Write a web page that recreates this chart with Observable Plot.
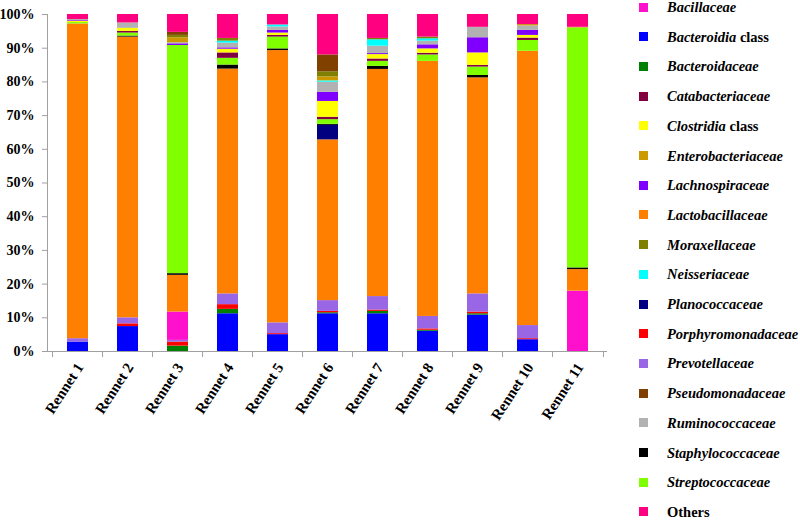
<!DOCTYPE html>
<html><head><meta charset="utf-8">
<script src="https://cdn.jsdelivr.net/npm/d3@7"></script>
<script src="https://cdn.jsdelivr.net/npm/@observablehq/plot@0.6"></script>
<style>
body{margin:0;background:#fff;}
#wrap{position:relative;width:800px;height:520px;overflow:hidden;font-family:"Liberation Serif","Times New Roman",serif;background:#fff;}
#chart{position:absolute;left:0;top:0;}
.item{position:absolute;left:639px;height:20px;display:flex;align-items:center;white-space:nowrap;}
.sw{width:9px;height:9px;margin-right:19px;}
.lab{font-size:14.5px;font-weight:bold;color:#000;line-height:16px;}
.lab i{font-style:italic;}
</style>
</head><body>
<div id="wrap"><div id="chart"></div><div id="legend"></div></div>
<script>
const rennets = ["Rennet 1","Rennet 2","Rennet 3","Rennet 4","Rennet 5","Rennet 6","Rennet 7","Rennet 8","Rennet 9","Rennet 10","Rennet 11"];
const yTicks = [0,10,20,30,40,50,60,70,80,90,100];

// stacking order, bottom to top
const stackOrder = ["Bacteroidia class","Bacteroidaceae","Porphyromonadaceae","Prevotellaceae","Bacillaceae","Lactobacillaceae","Planococcaceae","Staphylococcaceae","Streptococcaceae","Catabacteriaceae","Clostridia class","Lachnospiraceae","Ruminococcaceae","Neisseriaceae","Enterobacteriaceae","Moraxellaceae","Pseudomonadaceae","Others"];
const stackColors = ["#0000FF","#008000","#FF0000","#9966E6","#FF10CC","#FF8000","#000080","#000000","#80FF00","#800040","#FFFF00","#8000FF","#B2B2B2","#00FFFF","#CC9900","#808000","#804000","#FF0080"];

// legend order (top to bottom)
const legendOrder = ["Bacillaceae","Bacteroidia class","Bacteroidaceae","Catabacteriaceae","Clostridia class","Enterobacteriaceae","Lachnospiraceae","Lactobacillaceae","Moraxellaceae","Neisseriaceae","Planococcaceae","Porphyromonadaceae","Prevotellaceae","Pseudomonadaceae","Ruminococcaceae","Staphylococcaceae","Streptococcaceae","Others"];

// relative abundance (%) per rennet 1..11
const bacteroidiaClass   = [2.8, 7.4, 0, 11.2, 5.0, 11.2, 11.2, 6.0, 10.8, 3.5, 0];
const bacteroidaceae     = [0, 0, 1.6, 1.3, 0, 0.3, 0.7, 0.3, 0.4, 0, 0];
const porphyromonadaceae = [0, 0.8, 1.2, 1.4, 0.3, 0.4, 0.4, 0.4, 0.5, 0.3, 0];
const prevotellaceae     = [1.0, 1.8, 0.5, 3.2, 3.2, 3.2, 4.0, 3.7, 5.4, 3.9, 0];
const bacillaceae        = [0, 0, 8.4, 0, 0, 0, 0, 0, 0, 0, 17.9];
const lactobacillaceae   = [93.4, 83.3, 10.9, 66.7, 80.8, 47.7, 67.4, 75.7, 64.1, 81.4, 6.4];
const planococcaceae     = [0, 0, 0, 0, 0, 4.3, 0, 0, 0, 0, 0];
const staphylococcaceae  = [0, 0.3, 0.5, 1.2, 0.5, 0.3, 0.9, 0, 0.7, 0, 0.5];
const streptococcaceae   = [0.4, 0.9, 67.7, 2.0, 3.5, 1.4, 1.5, 1.9, 2.5, 3.2, 71.2];
const catabacteriaceae   = [0, 0.5, 0, 1.6, 0.5, 0.7, 0.7, 0.5, 0.5, 0.7, 0];
const clostridiaClass    = [0.4, 0.9, 0, 1.1, 0.7, 4.7, 1.3, 1.3, 3.7, 0.8, 0];
const lachnospiraceae    = [0.2, 0, 0.5, 0.4, 0.8, 2.7, 0.3, 1.2, 4.5, 1.5, 0];
const ruminococcaceae    = [0.3, 1.6, 0.3, 1.4, 1.0, 3.0, 2.2, 1.1, 3.1, 1.3, 0];
const neisseriaceae      = [0, 0, 0, 0.6, 0.6, 0.4, 1.9, 0.7, 0, 0, 0];
const enterobacteriaceae = [0, 0, 1.5, 0, 0, 1.2, 0, 0, 0, 0.4, 0.2];
const moraxellaceae      = [0, 0, 0.7, 0.8, 0, 1.5, 0.4, 0.5, 0, 0, 0];
const pseudomonadaceae   = [0, 0, 0.9, 0, 0, 5.0, 0, 0, 0, 0, 0];
const others             = [1.5, 2.5, 5.3, 7.1, 3.1, 12.0, 7.1, 6.7, 3.8, 3.0, 3.8];

const seriesByFamily = new Map([
  ["Bacteroidia class", bacteroidiaClass], ["Bacteroidaceae", bacteroidaceae],
  ["Porphyromonadaceae", porphyromonadaceae], ["Prevotellaceae", prevotellaceae],
  ["Bacillaceae", bacillaceae], ["Lactobacillaceae", lactobacillaceae],
  ["Planococcaceae", planococcaceae], ["Staphylococcaceae", staphylococcaceae],
  ["Streptococcaceae", streptococcaceae], ["Catabacteriaceae", catabacteriaceae],
  ["Clostridia class", clostridiaClass], ["Lachnospiraceae", lachnospiraceae],
  ["Ruminococcaceae", ruminococcaceae], ["Neisseriaceae", neisseriaceae],
  ["Enterobacteriaceae", enterobacteriaceae], ["Moraxellaceae", moraxellaceae],
  ["Pseudomonadaceae", pseudomonadaceae], ["Others", others]
]);

const rows = [];
for (const fam of stackOrder) {
  const vals = seriesByFamily.get(fam);
  rennets.forEach((r, i) => { if (vals[i] > 0) rows.push({rennet: r, family: fam, value: vals[i]}); });
}

const W = 620, ML = 47, MR = 13;
const step = (W - ML - MR) / rennets.length;
const font = "'Liberation Serif','Times New Roman',serif";

const chart = Plot.plot({
  width: W, height: 520,
  marginLeft: ML, marginRight: MR, marginTop: 14, marginBottom: 169,
  style: {fontFamily: font, background: "white", overflow: "visible"},
  x: {domain: rennets, paddingInner: 0.59, paddingOuter: 0.295, label: null},
  y: {domain: [0, 100], label: null},
  color: {domain: stackOrder, range: stackColors},
  marks: [
    Plot.barY(rows, {x: "rennet", y: "value", z: "family", fill: "family", order: stackOrder}),
    Plot.ruleY([0], {stroke: "#a0a0a0"}),
    Plot.frame({anchor: "left", stroke: "#a0a0a0"}),
    Plot.axisY({ticks: yTicks, tickFormat: d => d + "%", tickSize: 5, tickPadding: 8,
      fontSize: 14, fontWeight: "bold", stroke: "#a0a0a0", fill: "#000", label: null}),
    Plot.axisX({tickSize: 6, text: null, dx: -step / 2, stroke: "#a0a0a0", label: null}),
    Plot.axisX({ticks: [rennets[rennets.length - 1]], tickSize: 6, text: null, dx: step / 2, stroke: "#a0a0a0", label: null}),
    Plot.axisX({tickSize: 0, tickRotate: -57, tickPadding: 13, dx: 2,
      fontSize: 15, fontWeight: "bold", fill: "#000", label: null})
  ]
});
document.getElementById("chart").appendChild(chart);

// legend
const colorOf = new Map(stackOrder.map((f, i) => [f, stackColors[i]]));
const leg = d3.select("#legend");
legendOrder.forEach((f, i) => {
  const item = leg.append("div").attr("class", "item").style("top", (-3 + i * 29.7) + "px");
  item.append("div").attr("class", "sw").style("background", colorOf.get(f));
  const lab = item.append("div").attr("class", "lab");
  if (f === "Others") lab.text(f);
  else if (f.endsWith(" class")) { lab.append("i").text(f.replace(" class", "")); lab.append("span").text(" class"); }
  else lab.append("i").text(f);
});
</script>
</body></html>
